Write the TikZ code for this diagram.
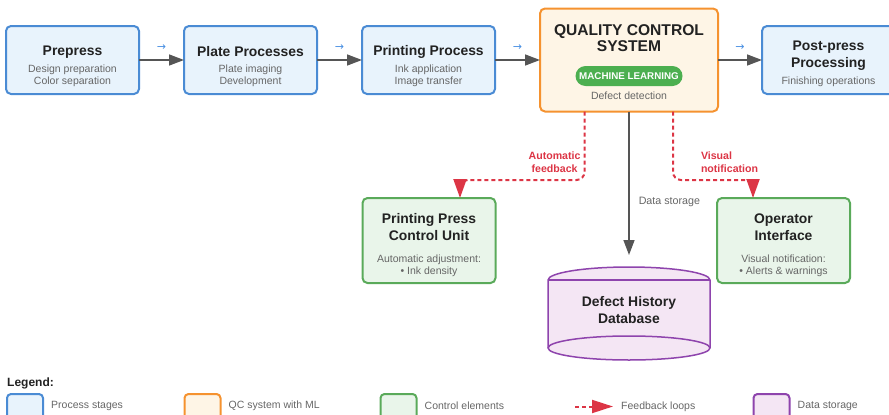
\documentclass[tikz,border=0pt]{standalone}
\usepackage{fontspec}
\setmainfont{Liberation Sans}
\setsansfont{Liberation Sans}
\newfontfamily\hintfont{DejaVu Sans}
\usepackage{xcolor}
\usetikzlibrary{arrows.meta,positioning}

\definecolor{stageline}{HTML}{4A8BD4}
\definecolor{stagefill}{HTML}{E8F3FC}
\definecolor{qcline}{HTML}{F5922F}
\definecolor{qcfill}{HTML}{FEF5E6}
\definecolor{ctrlline}{HTML}{5AAA5A}
\definecolor{ctrlfill}{HTML}{E9F5EA}
\definecolor{dbline}{HTML}{8E44AD}
\definecolor{dbfill}{HTML}{F4E6F4}
\definecolor{mlgreen}{HTML}{4CAF50}
\definecolor{fbred}{HTML}{DC3545}
\definecolor{flowgray}{HTML}{555555}
\definecolor{hintblue}{HTML}{4A90E2}
\definecolor{titletext}{HTML}{222222}
\definecolor{subtext}{HTML}{666666}

\begin{document}
\begin{tikzpicture}[x=1pt,y=-1pt,node distance=45pt,
  box/.style={draw,rounded corners=5pt,line width=2pt,outer sep=0pt,minimum width=133pt,minimum height=68pt},
  stage/.style={box,draw=stageline,fill=stagefill},
  qcbox/.style={box,draw=qcline,fill=qcfill,minimum width=178pt,minimum height=103pt},
  ctrl/.style={box,draw=ctrlline,fill=ctrlfill,minimum height=85pt},
  ttl/.style={font=\fontsize{13.9}{17}\selectfont\bfseries,text=titletext,align=center,inner sep=0pt},
  sub/.style={font=\fontsize{10.5}{12}\selectfont,text=subtext,align=center,inner sep=0pt},
  pill/.style={fill=mlgreen,rounded corners=10pt,minimum width=107pt,minimum height=20pt,inner sep=0pt,
    text=white,font=\fontsize{9.8}{11}\selectfont\bfseries},
  flow/.style={-{Triangle[length=15pt,width=11pt]},draw=flowgray,line width=1.5pt},
  fb/.style={dash pattern=on 4pt off 3pt,draw=fbred,line width=2pt,-{Triangle[length=19pt,width=13pt]}},
  fbtext/.style={text=fbred,font=\fontsize{10.6}{12.5}\selectfont\bfseries,inner sep=0pt},
  hint/.style={text=hintblue,font=\hintfont\fontsize{11}{11}\selectfont,inner sep=0pt},
  swatch/.style={draw,rounded corners=4pt,line width=2pt,outer sep=0pt,minimum width=36pt,minimum height=28pt},
  keytext/.style={font=\fontsize{10.5}{12}\selectfont,text=subtext,inner sep=0pt}]

\useasboundingbox (0,0) rectangle (889,415);

% process stages
\node[stage] (prepress) at (72.5,60) {};
\node[stage] (plate) [right=of prepress] {};
\node[stage] (printing) [right=of plate] {};
\node[qcbox] (qc) [right=of printing] {};
\node[stage] (postpress) [right=44pt of qc] {};

\node[ttl] (prepress-t) at ([yshift=8pt]prepress) {Prepress};
\node[sub] (prepress-s) at ([yshift=-16pt]prepress) {Design preparation\\Color separation};
\node[ttl] (plate-t) at ([yshift=8pt]plate) {Plate Processes};
\node[sub] (plate-s) at ([yshift=-16pt]plate) {Plate imaging\\Development};
\node[ttl] (printing-t) at ([yshift=8pt]printing) {Printing Process};
\node[sub] (printing-s) at ([yshift=-16pt]printing) {Ink application\\Image transfer};
\node[ttl] (postpress-t) at ([yshift=4.5pt]postpress) {Post-press\\Processing};
\node[sub] (postpress-s) at ([yshift=-22pt]postpress) {Finishing operations};

% quality control
\node[ttl,font=\fontsize{15.6}{16}\selectfont\bfseries] (qc-t) at ([yshift=21.5pt]qc) {QUALITY CONTROL\\SYSTEM};
\node[pill] (ml) at ([yshift=-16pt]qc) {MACHINE LEARNING};
\node[sub] (qc-s) at ([yshift=-35.5pt]qc) {Defect detection};

% control elements
\node[ctrl] (pressunit) at (429,240.5) {};
\node[ctrl] (operator) at (783.5,240.5) {};
\node[ttl] (pressunit-t) at ([yshift=13pt]pressunit) {Printing Press\\Control Unit};
\node[sub] (pressunit-s) at ([yshift=-25.5pt]pressunit) {Automatic adjustment:\\• Ink density};
\node[ttl] (operator-t) at ([yshift=13pt]operator) {Operator\\Interface};
\node[sub] (operator-s) at ([yshift=-25.5pt]operator) {Visual notification:\\• Alerts \& warnings};

% database
\filldraw[draw=dbline,fill=dbfill,line width=1.5pt] (548,280) -- (548,348)
  arc[start angle=180,end angle=360,x radius=81pt,y radius=12pt] -- (710,280)
  arc[start angle=0,end angle=180,x radius=81pt,y radius=13pt] -- cycle;
\draw[dbline,line width=1.5pt] (548,280) -- (710,280);
\draw[dbline,line width=1.5pt] (710,348) arc[start angle=0,end angle=180,x radius=81pt,y radius=12pt];
\node[ttl] (db) at (629,310) {Defect History\\Database};
\coordinate (dbtop) at (629,255);

\path
  (prepress) edge[flow] node[hint,yshift=12pt] {→} (plate)
  (plate) edge[flow] node[hint,yshift=12pt] {→} (printing)
  (printing) edge[flow] node[hint,yshift=12pt] {→} (qc)
  (qc) edge[flow] node[hint,yshift=12pt] {→} (postpress);

\draw[flow] (qc.south) -- node[pos=0.63,right=9pt,sub,font=\fontsize{10.7}{12}\selectfont] {Data storage} (dbtop);

% feedback loops
\draw[fb] ([xshift=-44.5pt]qc.south) [rounded corners=8pt]
  |- node[pos=0.37,left=3pt,fbtext,align=center] {Automatic\\feedback}
  ([xshift=31pt,yshift=18pt]pressunit.north) [sharp corners] -- ([xshift=31pt]pressunit.north);
\draw[fb] ([xshift=44pt]qc.south) [rounded corners=8pt]
  |- node[pos=0.37,right=27pt,fbtext,align=left] {Visual\\notification}
  ([xshift=-30.5pt,yshift=18pt]operator.north) [sharp corners] -- ([xshift=-30.5pt]operator.north);

% legend
\node[anchor=west,inner sep=0pt,font=\fontsize{12}{14}\selectfont\bfseries,text=titletext] (legend) at (7,383) {Legend:};
\node[swatch,draw=stageline,fill=stagefill] (key1) at (25,408) {};
\node[keytext] (key1-t) [right=8pt of key1,yshift=2pt] {Process stages};
\node[swatch,draw=qcline,fill=qcfill] (key2) at (202.5,408) {};
\node[keytext] (key2-t) [right=8pt of key2,yshift=2pt] {QC system with ML};
\node[swatch,draw=ctrlline,fill=ctrlfill] (key3) at (398.5,408) {};
\node[keytext] (key3-t) [right=8pt of key3,yshift=2pt] {Control elements};
\coordinate (key4a) at (575,406.5);
\coordinate (key4b) at (613,406.5);
\draw[fb,-{Triangle[length=21pt,width=13pt]}] (key4a) -- (key4b);
\node[keytext] (key4-t) [right=8pt of key4b] {Feedback loops};
\node[swatch,draw=dbline,fill=dbfill] (key5) at (771.5,408) {};
\node[keytext] (key5-t) [right=8pt of key5,yshift=2pt] {Data storage};
\end{tikzpicture}
\end{document}
